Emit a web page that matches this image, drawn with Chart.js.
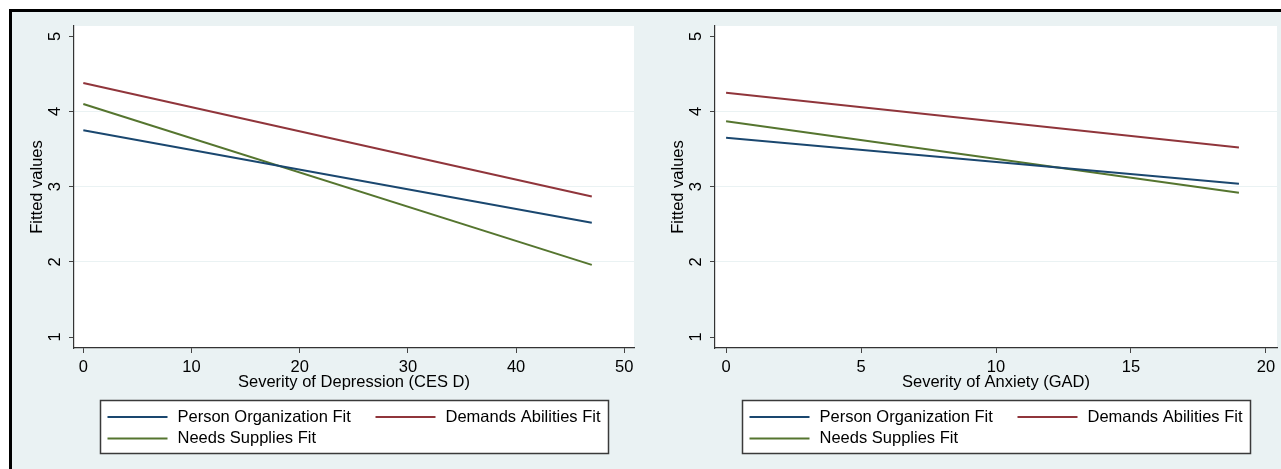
<!DOCTYPE html>
<html>
<head>
<meta charset="utf-8">
<script src="https://cdn.jsdelivr.net/npm/chart.js@4.4.1/dist/chart.umd.min.js"></script>
<style>
  html, body { margin: 0; padding: 0; background: #fff; width: 1281px; height: 469px; overflow: hidden; }
  #frame { position: absolute; left: 9px; top: 9px; width: 1300px; height: 500px; border: 3px solid #000; background: #EAF2F3; }
  canvas { position: absolute; top: 12px; }
  #chart-depression { left: 12px; }
  #chart-anxiety { left: 653px; }
</style>
</head>
<body>
<div id="frame"></div>
<canvas id="chart-depression" width="628" height="457"></canvas>
<canvas id="chart-anxiety" width="628" height="457"></canvas>
<script>
// series (fitted lines, two end points each)
const seriesNames = ['Person Organization Fit', 'Demands Abilities Fit', 'Needs Supplies Fit'];
const seriesColors = ['#1a476f', '#90353b', '#55752f'];
const yTicks = [1, 2, 3, 4, 5];

const depX = [0, 47];
const depPersonOrg = [3.75, 2.52];
const depDemands = [4.38, 2.87];
const depNeeds = [4.10, 1.96];
const depXTicks = [0, 10, 20, 30, 40, 50];

const anxX = [0, 19];
const anxPersonOrg = [3.65, 3.04];
const anxDemands = [4.25, 3.52];
const anxNeeds = [3.87, 2.92];
const anxXTicks = [0, 5, 10, 15, 20];

const FONT = "'Liberation Sans', Arial, sans-serif";
const FSIZE = 16.5;

// white plot region
const plotBg = {
  id: 'plotBg',
  beforeDraw(chart) {
    const a = chart.chartArea, ctx = chart.ctx;
    ctx.save();
    ctx.fillStyle = '#fff';
    ctx.fillRect(a.left, a.top, a.right - a.left, a.bottom - a.top);
    ctx.restore();
  }
};

// stata style legend box under the x axis
const boxLegend = {
  id: 'boxLegend',
  afterDraw(chart) {
    const a = chart.chartArea, ctx = chart.ctx;
    const w = 508, h = 53;
    const left = Math.round((a.left + a.right) / 2 - w / 2) + 0.5;
    const top = Math.round(chart.scales.x.bottom) + 0.5;
    ctx.save();
    ctx.fillStyle = '#fff';
    ctx.fillRect(left, top, w, h);
    ctx.strokeStyle = '#3a3a3a';
    ctx.lineWidth = 1.5;
    ctx.strokeRect(left, top, w, h);
    const cols = [7, 275], rows = [16.5, 38];
    ctx.font = FSIZE + 'px ' + FONT;
    ctx.textBaseline = 'middle';
    ctx.textAlign = 'left';
    chart.data.datasets.forEach(function (ds, i) {
      const cx = left + cols[i % 2];
      const cy = top + rows[Math.floor(i / 2)];
      ctx.strokeStyle = ds.borderColor;
      ctx.lineWidth = 2;
      ctx.beginPath();
      ctx.moveTo(cx, cy);
      ctx.lineTo(cx + 60, cy);
      ctx.stroke();
      ctx.fillStyle = '#000';
      ctx.fillText(ds.label, cx + 70, cy);
    });
    ctx.restore();
  }
};

function points(xs, ys) {
  return xs.map(function (x, i) { return { x: x, y: ys[i] }; });
}

function makeChart(id, xs, series, xTitle, xMin, xMax, xTicks, padRight) {
  const ctx = document.getElementById(id).getContext('2d');
  return new Chart(ctx, {
    type: 'line',
    data: {
      datasets: series.map(function (ys, i) {
        return {
          label: seriesNames[i],
          data: points(xs, ys),
          borderColor: seriesColors[i],
          borderWidth: 2,
          pointRadius: 0,
          tension: 0,
          fill: false
        };
      })
    },
    options: {
      responsive: false,
      animation: false,
      layout: { padding: { left: 0, top: 14, right: padRight, bottom: 69 } },
      plugins: { legend: { display: false }, tooltip: { enabled: false } },
      scales: {
        x: {
          type: 'linear',
          min: xMin,
          max: xMax,
          afterBuildTicks: function (scale) { scale.ticks = xTicks.map(function (v) { return { value: v }; }); },
          afterFit: function (scale) { scale.height = 52; scale.paddingLeft = 0; scale.paddingRight = 0; },
          grid: { drawOnChartArea: false, drawTicks: true, tickLength: 5, tickColor: '#444' },
          border: { display: true, color: '#333', width: 1.2 },
          ticks: { color: '#000', padding: 5, maxRotation: 0, autoSkip: false, font: { family: FONT, size: FSIZE } },
          title: { display: true, text: xTitle, color: '#000', font: { family: FONT, size: FSIZE }, padding: { top: 0, bottom: 8 } }
        },
        y: {
          type: 'linear',
          min: 0.854,
          max: 5.137,
          afterBuildTicks: function (scale) { scale.ticks = yTicks.map(function (v) { return { value: v }; }); },
          afterFit: function (scale) { scale.width = 62; scale.paddingTop = 0; scale.paddingBottom = 0; },
          grid: {
            color: function (c) { return (c.tick && c.tick.value > 1 && c.tick.value < 5) ? '#EAF2F3' : 'rgba(0,0,0,0)'; },
            lineWidth: 1,
            drawTicks: true,
            tickLength: 5,
            tickColor: '#444'
          },
          border: { display: true, color: '#333', width: 1.2 },
          ticks: { color: '#000', padding: 9, minRotation: 90, maxRotation: 90, crossAlign: 'center', autoSkip: false, font: { family: FONT, size: FSIZE } },
          title: { display: true, text: 'Fitted values', color: '#000', font: { family: FONT, size: FSIZE }, padding: { top: 16, bottom: 0 } }
        }
      }
    },
    plugins: [plotBg, boxLegend]
  });
}

const chartDep = makeChart('chart-depression', depX, [depPersonOrg, depDemands, depNeeds],
  'Severity of Depression (CES D)', -0.86, 50.9, depXTicks, 6);
const chartAnx = makeChart('chart-anxiety', anxX, [anxPersonOrg, anxDemands, anxNeeds],
  'Severity of Anxiety (GAD)', -0.41, 20.41, anxXTicks, 4);
</script>
</body>
</html>
